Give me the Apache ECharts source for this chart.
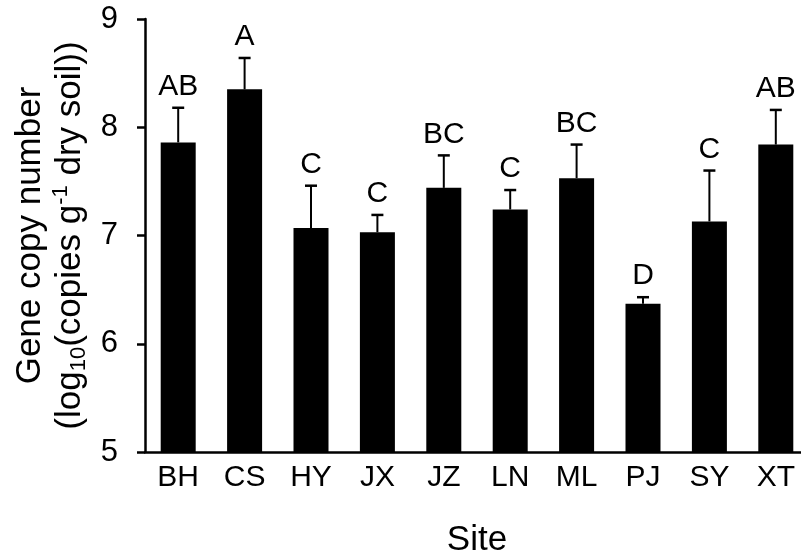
<!DOCTYPE html>
<html>
<head>
<meta charset="utf-8">
<script src="https://cdn.jsdelivr.net/npm/echarts@6/dist/echarts.min.js"></script>
<style>
  html, body { margin: 0; padding: 0; background: #fff; }
  #chart { width: 801px; height: 558px; }
</style>
</head>
<body>
<div id="chart"></div>
<script>
// site names and means
const sites = ['BH', 'CS', 'HY', 'JX', 'JZ', 'LN', 'ML', 'PJ', 'SY', 'XT']
const means = [7.86, 8.35, 7.07, 7.03, 7.44, 7.24, 7.53, 6.37, 7.13, 7.84]
const errs = [0.32, 0.29, 0.39, 0.16, 0.30, 0.18, 0.31, 0.06, 0.47, 0.32]
const letters = ['AB', 'A', 'C', 'C', 'BC', 'C', 'BC', 'D', 'C', 'AB']
const yTicks = [5, 6, 7, 8, 9]

const FONT = 'Liberation Sans, Arial, sans-serif'

const chart = echarts.init(document.getElementById('chart'))

// error bar rows: [index, top, mean]
const errData = sites.map((s, i) => [i, means[i] + errs[i], means[i]])

const option = {
  animation: false,
  backgroundColor: '#fff',
  textStyle: { fontFamily: FONT, color: '#000' },
  grid: { left: 145, right: -8, top: 19, bottom: 106, outerBoundsMode: 'none' },
  xAxis: {
    type: 'category',
    data: sites,
    name: 'Site',
    nameLocation: 'middle',
    nameGap: 71,
    nameTextStyle: { fontSize: 35, color: '#000', fontFamily: FONT },
    axisLine: { lineStyle: { color: '#000', width: 2.5 } },
    axisTick: { show: false },
    axisLabel: { fontSize: 30, color: '#000', margin: 11, fontFamily: FONT }
  },
  yAxis: {
    type: 'value',
    min: yTicks[0],
    max: yTicks[yTicks.length - 1],
    interval: 1,
    name: '{t|Gene copy number}\n{t|(log}{sub|10}{t|(copies g}{sup|-1}{t| dry soil))}',
    nameLocation: 'middle',
    nameRotate: 90,
    nameGap: 55,
    nameTextStyle: {
      color: '#000',
      fontFamily: FONT,
      rich: {
        t: { fontSize: 35, lineHeight: 40, fontFamily: FONT, color: '#000' },
        sub: { fontSize: 22, lineHeight: 14, verticalAlign: 'bottom', fontFamily: FONT, color: '#000' },
        sup: { fontSize: 22, lineHeight: 22, verticalAlign: 'top', fontFamily: FONT, color: '#000' }
      }
    },
    splitLine: { show: false },
    axisLine: { show: true, lineStyle: { color: '#000', width: 2.5 } },
    axisTick: { show: true, length: 8, lineStyle: { color: '#000', width: 2.5 } },
    axisLabel: { fontSize: 31, color: '#000', margin: 27, fontFamily: FONT }
  },
  series: [
    {
      type: 'bar',
      data: means,
      barWidth: 35,
      itemStyle: { color: '#000' }
    },
    {
      type: 'custom',
      data: errData,
      z: 5,
      renderItem: function (params, api) {
        const i = api.value(0)
        const top = api.coord([i, api.value(1)])
        const base = api.coord([i, api.value(2)])
        return {
          type: 'group',
          children: [
            { type: 'line', shape: { x1: top[0], y1: top[1], x2: base[0], y2: base[1] },
              style: { stroke: '#000', lineWidth: 2 } },
            { type: 'line', shape: { x1: top[0] - 6, y1: top[1], x2: top[0] + 6, y2: top[1] },
              style: { stroke: '#000', lineWidth: 2.5 } },
            { type: 'text', x: top[0], y: top[1] - 6,
              style: { text: letters[i], align: 'center', verticalAlign: 'bottom',
                       fontSize: 30, fontFamily: FONT, fill: '#000' } }
          ]
        }
      }
    }
  ]
}

chart.setOption(option)
</script>
</body>
</html>
